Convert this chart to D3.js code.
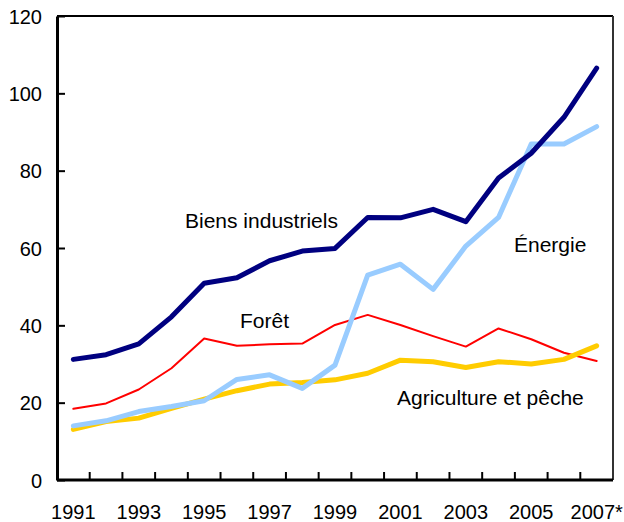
<!DOCTYPE html>
<html lang="fr">
<head>
<meta charset="UTF-8">
<title>Exportations</title>
<style>
    body { margin: 0; background: #fff; }
    svg text { font-family: "Liberation Sans", Arial, Helvetica, sans-serif; fill: #000; }
    .axis text { font-size: 20px; }
    .label { font-size: 21px; }
    .line { fill: none; stroke-linejoin: round; stroke-linecap: round; }
</style>
</head>
<body>
<svg width="624" height="522"></svg>
<script src="https://d3js.org/d3.v7.min.js"></script>
<script>

var years = d3.range(1991, 2008);
var yearLabels = ["1991", "1993", "1995", "1997", "1999", "2001", "2003", "2005", "2007*"];
var yTicks = [0, 20, 40, 60, 80, 100, 120];

var biens   = [31.2, 32.4, 35.2, 42.2, 50.9, 52.3, 56.7, 59.2, 59.9, 67.9, 67.8, 70.0, 66.8, 78.1, 84.5, 93.8, 106.5];
var energie = [14.0, 15.3, 17.7, 19.0, 20.5, 26.0, 27.2, 23.7, 29.7, 53.0, 55.8, 49.3, 60.5, 67.9, 86.9, 86.9, 91.4];
var foret   = [18.4, 19.8, 23.4, 28.9, 36.6, 34.7, 35.1, 35.3, 40.1, 42.7, 40.1, 37.2, 34.5, 39.2, 36.4, 32.9, 30.8];
var agri    = [13.1, 15.1, 16.0, 18.5, 20.9, 23.1, 24.8, 25.2, 25.9, 27.6, 31.0, 30.6, 29.1, 30.6, 30.0, 31.2, 34.7];

var series = [
    {name: "Forêt", values: foret, color: "#ff0000", width: 2, lx: 240, ly: 328},
    {name: "Agriculture et pêche", values: agri, color: "#ffcc00", width: 5, lx: 397, ly: 405},
    {name: "Énergie", values: energie, color: "#99ccff", width: 5, lx: 514, ly: 252},
    {name: "Biens industriels", values: biens, color: "#000080", width: 5, lx: 185, ly: 228}
];

var svg = d3.select("svg"),
    plotLeft = 57, plotRight = 613, plotTop = 16, plotBottom = 480;

var x = d3.scaleBand().domain(years).range([plotLeft, plotRight]).padding(0);
var y = d3.scaleLinear().domain([0, 120]).range([plotBottom, plotTop]);
var cx = function(yr) { return x(yr) + x.bandwidth() / 2; };

// frame top / right
svg.append("line").attr("x1", plotLeft).attr("x2", plotRight).attr("y1", plotTop).attr("y2", plotTop)
    .attr("stroke", "#000").attr("stroke-width", 2);
svg.append("line").attr("x1", plotRight).attr("x2", plotRight).attr("y1", plotTop).attr("y2", plotBottom)
    .attr("stroke", "#333").attr("stroke-width", 2);

// y axis
var yAxis = svg.append("g").attr("class", "axis")
    .attr("transform", "translate(" + plotLeft + ",0)")
    .call(d3.axisLeft(y).tickValues(yTicks).tickSize(-8).tickPadding(15).tickSizeOuter(0));
yAxis.select(".domain").attr("stroke-width", 3);
yAxis.selectAll(".tick line").attr("stroke-width", 2);
yAxis.selectAll("text").attr("dy", "0.35em");

// x axis: labels on odd years, ticks at year boundaries
var xAxis = svg.append("g").attr("class", "axis")
    .attr("transform", "translate(0," + plotBottom + ")")
    .call(d3.axisBottom(x).tickValues(years.filter(function(d) { return d % 2 === 1; }))
        .tickFormat(function(d, i) { return yearLabels[i]; })
        .tickSize(0).tickPadding(25));
xAxis.select(".domain").attr("stroke-width", 3).attr("d", "M" + plotLeft + ",0H" + plotRight);

svg.append("g").selectAll("line")
    .data(years.slice(1))
    .enter().append("line")
    .attr("x1", function(d) { return x(d); })
    .attr("x2", function(d) { return x(d); })
    .attr("y1", plotBottom).attr("y2", plotBottom - 8)
    .attr("stroke", "#000").attr("stroke-width", 2);

// lines
var line = d3.line()
    .x(function(d, i) { return cx(years[i]); })
    .y(function(d) { return y(d); });

svg.append("g").selectAll("path")
    .data(series)
    .enter().append("path")
    .attr("class", "line")
    .attr("d", function(d) { return line(d.values); })
    .attr("stroke", function(d) { return d.color; })
    .attr("stroke-width", function(d) { return d.width; });

svg.append("g").selectAll("text")
    .data(series)
    .enter().append("text")
    .attr("class", "label")
    .attr("x", function(d) { return d.lx; })
    .attr("y", function(d) { return d.ly; })
    .text(function(d) { return d.name; });

</script>
</body>
</html>
